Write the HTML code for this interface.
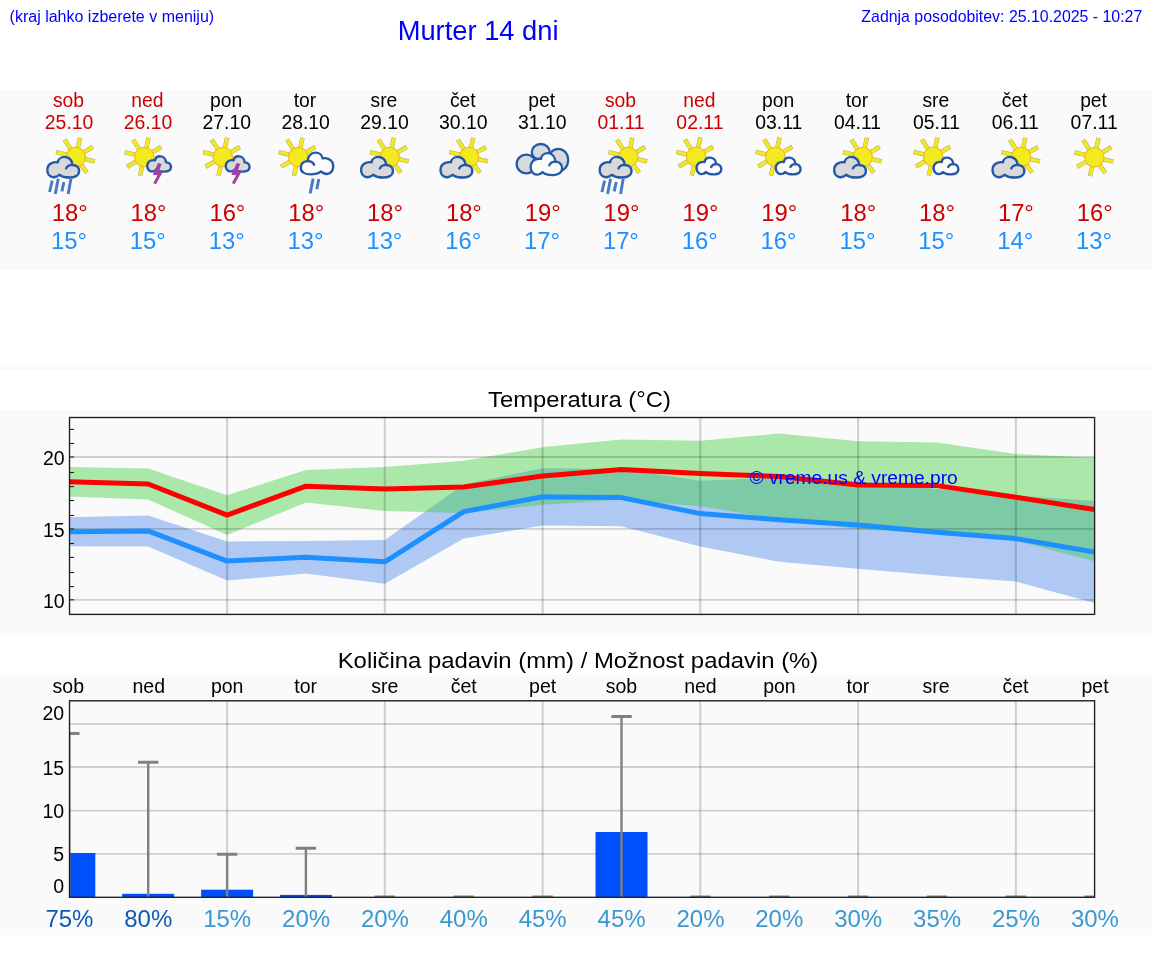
<!DOCTYPE html>
<html><head><meta charset="utf-8"><title>Murter 14 dni</title>
<style>html,body{margin:0;padding:0;background:#fff;}body{width:1152px;height:975px;position:relative;overflow:hidden;font-family:"Liberation Sans",sans-serif;}</style>
</head><body>
<svg width="1152" height="975" viewBox="0 0 1152 975" style="position:absolute;left:0;top:0">
<defs><filter id="blur" x="-10%" y="-10%" width="120%" height="120%"><feGaussianBlur stdDeviation="0.45"/></filter><filter id="soft" x="0" y="0" width="100%" height="100%" filterUnits="userSpaceOnUse"><feGaussianBlur stdDeviation="0.38"/></filter></defs>
<rect x="0" y="90" width="1152" height="180" fill="#fafafa"/>
<rect x="0" y="365" width="1152" height="5" fill="#fafafa"/>
<rect x="0" y="410" width="1152" height="225" fill="#fafafa"/>
<rect x="0" y="675" width="1152" height="260" fill="#fafafa"/>
<g filter="url(#soft)">
<text x="9.6" y="21.9" font-family="Liberation Sans, sans-serif" opacity="0.999" font-size="16" fill="#0000ff">(kraj lahko izberete v meniju)</text>
<text x="397.7" y="39.9" font-family="Liberation Sans, sans-serif" opacity="0.999" font-size="27.3" fill="#0000ff">Murter 14 dni</text>
<text x="1142.3" y="21.9" font-family="Liberation Sans, sans-serif" opacity="0.999" font-size="15.9" fill="#0000ff" text-anchor="end">Zadnja posodobitev: 25.10.2025 - 10:27</text>
<g font-family="Liberation Sans, sans-serif" text-anchor="middle">
<g font-size="19.3">
<text x="68.5" y="106.9" fill="#cc0000">sob</text>
<text x="147.35" y="106.9" fill="#cc0000">ned</text>
<text x="226.2" y="106.9" fill="#000">pon</text>
<text x="305.0" y="106.9" fill="#000">tor</text>
<text x="383.9" y="106.9" fill="#000">sre</text>
<text x="462.8" y="106.9" fill="#000">čet</text>
<text x="541.6" y="106.9" fill="#000">pet</text>
<text x="620.45" y="106.9" fill="#cc0000">sob</text>
<text x="699.3" y="106.9" fill="#cc0000">ned</text>
<text x="778.2" y="106.9" fill="#000">pon</text>
<text x="857.0" y="106.9" fill="#000">tor</text>
<text x="935.85" y="106.9" fill="#000">sre</text>
<text x="1014.7" y="106.9" fill="#000">čet</text>
<text x="1093.55" y="106.9" fill="#000">pet</text>
</g>
<g font-size="19.4">
<text x="69.1" y="128.95" fill="#cc0000">25.10</text>
<text x="147.95" y="128.95" fill="#cc0000">26.10</text>
<text x="226.8" y="128.95" fill="#000">27.10</text>
<text x="305.65" y="128.95" fill="#000">28.10</text>
<text x="384.5" y="128.95" fill="#000">29.10</text>
<text x="463.35" y="128.95" fill="#000">30.10</text>
<text x="542.2" y="128.95" fill="#000">31.10</text>
<text x="621.05" y="128.95" fill="#cc0000">01.11</text>
<text x="699.9" y="128.95" fill="#cc0000">02.11</text>
<text x="778.75" y="128.95" fill="#000">03.11</text>
<text x="857.6" y="128.95" fill="#000">04.11</text>
<text x="936.45" y="128.95" fill="#000">05.11</text>
<text x="1015.3" y="128.95" fill="#000">06.11</text>
<text x="1094.15" y="128.95" fill="#000">07.11</text>
</g>
<g font-size="23.8" fill="#cc0000">
<text x="69.7" y="221">18°</text>
<text x="148.5" y="221">18°</text>
<text x="227.4" y="221">16°</text>
<text x="306.2" y="221">18°</text>
<text x="385.1" y="221">18°</text>
<text x="463.9" y="221">18°</text>
<text x="542.8" y="221">19°</text>
<text x="621.6" y="221">19°</text>
<text x="700.5" y="221">19°</text>
<text x="779.3" y="221">19°</text>
<text x="858.2" y="221">18°</text>
<text x="937.0" y="221">18°</text>
<text x="1015.9" y="221">17°</text>
<text x="1094.7" y="221">16°</text>
</g>
<g font-size="23.8" fill="#1e90ff">
<text x="69.0" y="248.9">15°</text>
<text x="147.8" y="248.9">15°</text>
<text x="226.7" y="248.9">13°</text>
<text x="305.5" y="248.9">13°</text>
<text x="384.4" y="248.9">13°</text>
<text x="463.2" y="248.9">16°</text>
<text x="542.1" y="248.9">17°</text>
<text x="620.9" y="248.9">17°</text>
<text x="699.8" y="248.9">16°</text>
<text x="778.6" y="248.9">16°</text>
<text x="857.5" y="248.9">15°</text>
<text x="936.3" y="248.9">15°</text>
<text x="1015.2" y="248.9">14°</text>
<text x="1094.0" y="248.9">13°</text>
</g>
</g>
<g filter="url(#blur)">
<g transform="translate(69.10 132) scale(0.0666667) translate(-438 0)"><line x1="470" y1="268" x2="371" y2="116" stroke="#9a9860" stroke-width="66" stroke-opacity="0.85"/><line x1="470" y1="268" x2="374" y2="120" stroke="#f2ea1c" stroke-width="52"/><line x1="567" y1="251" x2="603" y2="87" stroke="#9a9860" stroke-width="66" stroke-opacity="0.85"/><line x1="567" y1="251" x2="602" y2="92" stroke="#f2ea1c" stroke-width="52"/><line x1="649" y1="310" x2="794" y2="225" stroke="#9a9860" stroke-width="66" stroke-opacity="0.85"/><line x1="649" y1="310" x2="790" y2="228" stroke="#f2ea1c" stroke-width="52"/><line x1="663" y1="404" x2="824" y2="442" stroke="#9a9860" stroke-width="66" stroke-opacity="0.85"/><line x1="663" y1="404" x2="820" y2="441" stroke="#f2ea1c" stroke-width="52"/><line x1="612" y1="480" x2="704" y2="613" stroke="#9a9860" stroke-width="66" stroke-opacity="0.85"/><line x1="612" y1="480" x2="701" y2="609" stroke="#f2ea1c" stroke-width="52"/><line x1="415" y1="344" x2="243" y2="302" stroke="#9a9860" stroke-width="66" stroke-opacity="0.85"/><line x1="415" y1="344" x2="248" y2="303" stroke="#f2ea1c" stroke-width="52"/><circle cx="539" cy="375" r="146" fill="#f2ea1c" stroke="#f7b42c" stroke-width="17"/><path d="M492,494 C563,494 593,547 588,596 C583,654 517,683 446,683 C380,683 325,670 291,641 C259,675 198,690 158,665 C107,634 100,558 124,512 C147,466 213,443 267,456 C274,405 320,372 377,374 C441,377 485,430 489,494 Z" fill="#d9d9d9" stroke="#2458a8" stroke-width="36" stroke-linejoin="round"/><path d="M393,545 C411,512 451,492 492,494" fill="none" stroke="#2458a8" stroke-width="36" stroke-linecap="round"/><line x1="185" y1="730" x2="145" y2="900" stroke="#4a79c6" stroke-width="44"/><line x1="275" y1="700" x2="230" y2="930" stroke="#4a79c6" stroke-width="44"/><line x1="360" y1="750" x2="330" y2="890" stroke="#4a79c6" stroke-width="44"/><line x1="465" y1="700" x2="425" y2="930" stroke="#4a79c6" stroke-width="44"/></g>
<g transform="translate(147.65 132) scale(0.0666667) translate(-455 0)"><line x1="336" y1="268" x2="237" y2="116" stroke="#9a9860" stroke-width="66" stroke-opacity="0.85"/><line x1="336" y1="268" x2="240" y2="120" stroke="#f2ea1c" stroke-width="52"/><line x1="433" y1="251" x2="469" y2="87" stroke="#9a9860" stroke-width="66" stroke-opacity="0.85"/><line x1="433" y1="251" x2="468" y2="92" stroke="#f2ea1c" stroke-width="52"/><line x1="515" y1="310" x2="660" y2="225" stroke="#9a9860" stroke-width="66" stroke-opacity="0.85"/><line x1="515" y1="310" x2="656" y2="228" stroke="#f2ea1c" stroke-width="52"/><line x1="281" y1="344" x2="109" y2="302" stroke="#9a9860" stroke-width="66" stroke-opacity="0.85"/><line x1="281" y1="344" x2="114" y2="303" stroke="#f2ea1c" stroke-width="52"/><line x1="294" y1="438" x2="147" y2="521" stroke="#9a9860" stroke-width="66" stroke-opacity="0.85"/><line x1="294" y1="438" x2="152" y2="519" stroke="#f2ea1c" stroke-width="52"/><line x1="376" y1="499" x2="339" y2="657" stroke="#9a9860" stroke-width="66" stroke-opacity="0.85"/><line x1="376" y1="499" x2="340" y2="652" stroke="#f2ea1c" stroke-width="52"/><circle cx="405" cy="375" r="146" fill="#f2ea1c" stroke="#f7b42c" stroke-width="17"/><path d="M733,455 C786,455 809,494 805,530 C801,574 752,595 699,595 C650,595 609,585 584,564 C560,589 514,600 484,581 C446,559 441,502 459,467 C476,433 526,417 566,426 C571,388 605,363 648,365 C695,367 728,407 731,455 Z" fill="#d9d9d9" stroke="#2458a8" stroke-width="36" stroke-linejoin="round"/><polygon points="612,465 665,480 628,578 690,585 580,785 540,765 603,650 532,640" fill="#a23fa0"/></g>
<g transform="translate(226.20 132) scale(0.0666667) translate(-455 0)"><line x1="336" y1="268" x2="237" y2="116" stroke="#9a9860" stroke-width="66" stroke-opacity="0.85"/><line x1="336" y1="268" x2="240" y2="120" stroke="#f2ea1c" stroke-width="52"/><line x1="433" y1="251" x2="469" y2="87" stroke="#9a9860" stroke-width="66" stroke-opacity="0.85"/><line x1="433" y1="251" x2="468" y2="92" stroke="#f2ea1c" stroke-width="52"/><line x1="515" y1="310" x2="660" y2="225" stroke="#9a9860" stroke-width="66" stroke-opacity="0.85"/><line x1="515" y1="310" x2="656" y2="228" stroke="#f2ea1c" stroke-width="52"/><line x1="281" y1="344" x2="109" y2="302" stroke="#9a9860" stroke-width="66" stroke-opacity="0.85"/><line x1="281" y1="344" x2="114" y2="303" stroke="#f2ea1c" stroke-width="52"/><line x1="294" y1="438" x2="147" y2="521" stroke="#9a9860" stroke-width="66" stroke-opacity="0.85"/><line x1="294" y1="438" x2="152" y2="519" stroke="#f2ea1c" stroke-width="52"/><line x1="376" y1="499" x2="339" y2="657" stroke="#9a9860" stroke-width="66" stroke-opacity="0.85"/><line x1="376" y1="499" x2="340" y2="652" stroke="#f2ea1c" stroke-width="52"/><circle cx="405" cy="375" r="146" fill="#f2ea1c" stroke="#f7b42c" stroke-width="17"/><path d="M733,455 C786,455 809,494 805,530 C801,574 752,595 699,595 C650,595 609,585 584,564 C560,589 514,600 484,581 C446,559 441,502 459,467 C476,433 526,417 566,426 C571,388 605,363 648,365 C695,367 728,407 731,455 Z" fill="#d9d9d9" stroke="#2458a8" stroke-width="36" stroke-linejoin="round"/><polygon points="612,465 665,480 628,578 690,585 580,785 540,765 603,650 532,640" fill="#a23fa0"/></g>
<g transform="translate(305.55 132) scale(0.0666667) translate(-451 0)"><line x1="273" y1="267" x2="174" y2="115" stroke="#9a9860" stroke-width="66" stroke-opacity="0.85"/><line x1="273" y1="267" x2="177" y2="119" stroke="#f2ea1c" stroke-width="52"/><line x1="370" y1="250" x2="406" y2="86" stroke="#9a9860" stroke-width="66" stroke-opacity="0.85"/><line x1="370" y1="250" x2="405" y2="90" stroke="#f2ea1c" stroke-width="52"/><line x1="452" y1="309" x2="597" y2="224" stroke="#9a9860" stroke-width="66" stroke-opacity="0.85"/><line x1="452" y1="309" x2="592" y2="227" stroke="#f2ea1c" stroke-width="52"/><line x1="218" y1="343" x2="46" y2="301" stroke="#9a9860" stroke-width="66" stroke-opacity="0.85"/><line x1="218" y1="343" x2="51" y2="302" stroke="#f2ea1c" stroke-width="52"/><line x1="231" y1="437" x2="84" y2="520" stroke="#9a9860" stroke-width="66" stroke-opacity="0.85"/><line x1="231" y1="437" x2="89" y2="518" stroke="#f2ea1c" stroke-width="52"/><line x1="313" y1="498" x2="276" y2="656" stroke="#9a9860" stroke-width="66" stroke-opacity="0.85"/><line x1="313" y1="498" x2="278" y2="652" stroke="#f2ea1c" stroke-width="52"/><circle cx="342" cy="374" r="146" fill="#f2ea1c" stroke="#f7b42c" stroke-width="17"/><path d="M478,437 C406,437 375,492 380,544 C385,605 452,635 524,635 C592,635 648,621 682,591 C715,626 777,643 819,616 C870,584 877,503 853,455 C829,407 762,383 707,396 C700,342 653,308 595,310 C530,313 485,369 481,437 Z" fill="#fcfcfc" stroke="#2458a8" stroke-width="36" stroke-linejoin="round"/><path d="M579,490 C561,455 519,434 478,437" fill="none" stroke="#2458a8" stroke-width="36" stroke-linecap="round"/><line x1="565" y1="700" x2="520" y2="920" stroke="#4a79c6" stroke-width="44"/><line x1="650" y1="705" x2="620" y2="860" stroke="#4a79c6" stroke-width="44"/></g>
<g transform="translate(382.90 132) scale(0.0666667) translate(-438 0)"><line x1="470" y1="268" x2="371" y2="116" stroke="#9a9860" stroke-width="66" stroke-opacity="0.85"/><line x1="470" y1="268" x2="374" y2="120" stroke="#f2ea1c" stroke-width="52"/><line x1="567" y1="251" x2="603" y2="87" stroke="#9a9860" stroke-width="66" stroke-opacity="0.85"/><line x1="567" y1="251" x2="602" y2="92" stroke="#f2ea1c" stroke-width="52"/><line x1="649" y1="310" x2="794" y2="225" stroke="#9a9860" stroke-width="66" stroke-opacity="0.85"/><line x1="649" y1="310" x2="790" y2="228" stroke="#f2ea1c" stroke-width="52"/><line x1="663" y1="404" x2="824" y2="442" stroke="#9a9860" stroke-width="66" stroke-opacity="0.85"/><line x1="663" y1="404" x2="820" y2="441" stroke="#f2ea1c" stroke-width="52"/><line x1="612" y1="480" x2="704" y2="613" stroke="#9a9860" stroke-width="66" stroke-opacity="0.85"/><line x1="612" y1="480" x2="701" y2="609" stroke="#f2ea1c" stroke-width="52"/><line x1="415" y1="344" x2="243" y2="302" stroke="#9a9860" stroke-width="66" stroke-opacity="0.85"/><line x1="415" y1="344" x2="248" y2="303" stroke="#f2ea1c" stroke-width="52"/><circle cx="539" cy="375" r="146" fill="#f2ea1c" stroke="#f7b42c" stroke-width="17"/><path d="M492,494 C563,494 593,547 588,596 C583,654 517,683 446,683 C380,683 325,670 291,641 C259,675 198,690 158,665 C107,634 100,558 124,512 C147,466 213,443 267,456 C274,405 320,372 377,374 C441,377 485,430 489,494 Z" fill="#d9d9d9" stroke="#2458a8" stroke-width="36" stroke-linejoin="round"/><path d="M393,545 C411,512 451,492 492,494" fill="none" stroke="#2458a8" stroke-width="36" stroke-linecap="round"/></g>
<g transform="translate(462.25 132) scale(0.0666667) translate(-438 0)"><line x1="470" y1="268" x2="371" y2="116" stroke="#9a9860" stroke-width="66" stroke-opacity="0.85"/><line x1="470" y1="268" x2="374" y2="120" stroke="#f2ea1c" stroke-width="52"/><line x1="567" y1="251" x2="603" y2="87" stroke="#9a9860" stroke-width="66" stroke-opacity="0.85"/><line x1="567" y1="251" x2="602" y2="92" stroke="#f2ea1c" stroke-width="52"/><line x1="649" y1="310" x2="794" y2="225" stroke="#9a9860" stroke-width="66" stroke-opacity="0.85"/><line x1="649" y1="310" x2="790" y2="228" stroke="#f2ea1c" stroke-width="52"/><line x1="663" y1="404" x2="824" y2="442" stroke="#9a9860" stroke-width="66" stroke-opacity="0.85"/><line x1="663" y1="404" x2="820" y2="441" stroke="#f2ea1c" stroke-width="52"/><line x1="612" y1="480" x2="704" y2="613" stroke="#9a9860" stroke-width="66" stroke-opacity="0.85"/><line x1="612" y1="480" x2="701" y2="609" stroke="#f2ea1c" stroke-width="52"/><line x1="415" y1="344" x2="243" y2="302" stroke="#9a9860" stroke-width="66" stroke-opacity="0.85"/><line x1="415" y1="344" x2="248" y2="303" stroke="#f2ea1c" stroke-width="52"/><circle cx="539" cy="375" r="146" fill="#f2ea1c" stroke="#f7b42c" stroke-width="17"/><path d="M492,494 C563,494 593,547 588,596 C583,654 517,683 446,683 C380,683 325,670 291,641 C259,675 198,690 158,665 C107,634 100,558 124,512 C147,466 213,443 267,456 C274,405 320,372 377,374 C441,377 485,430 489,494 Z" fill="#d9d9d9" stroke="#2458a8" stroke-width="36" stroke-linejoin="round"/><path d="M393,545 C411,512 451,492 492,494" fill="none" stroke="#2458a8" stroke-width="36" stroke-linecap="round"/></g>
<g transform="translate(541.60 132) scale(0.0666667) translate(-444 0)"><ellipse cx="215" cy="480" rx="145" ry="140" fill="#d9d9d9" stroke="#2458a8" stroke-width="34"/><ellipse cx="695" cy="420" rx="148" ry="168" fill="#d9d9d9" stroke="#2458a8" stroke-width="34"/><ellipse cx="432" cy="300" rx="135" ry="120" fill="#d9d9d9" stroke="#2458a8" stroke-width="34"/><path d="M655,446 C725,446 755,502 750,554 C745,616 680,646 611,646 C546,646 491,632 458,602 C426,637 367,654 327,627 C277,594 270,513 294,464 C317,415 382,392 434,405 C441,350 486,316 543,318 C606,321 648,378 652,446 Z" fill="#fcfcfc" stroke="#2458a8" stroke-width="34" stroke-linejoin="round"/><path d="M558,500 C576,464 616,444 655,446" fill="none" stroke="#2458a8" stroke-width="34" stroke-linecap="round"/></g>
<g transform="translate(621.45 132) scale(0.0666667) translate(-438 0)"><line x1="470" y1="268" x2="371" y2="116" stroke="#9a9860" stroke-width="66" stroke-opacity="0.85"/><line x1="470" y1="268" x2="374" y2="120" stroke="#f2ea1c" stroke-width="52"/><line x1="567" y1="251" x2="603" y2="87" stroke="#9a9860" stroke-width="66" stroke-opacity="0.85"/><line x1="567" y1="251" x2="602" y2="92" stroke="#f2ea1c" stroke-width="52"/><line x1="649" y1="310" x2="794" y2="225" stroke="#9a9860" stroke-width="66" stroke-opacity="0.85"/><line x1="649" y1="310" x2="790" y2="228" stroke="#f2ea1c" stroke-width="52"/><line x1="663" y1="404" x2="824" y2="442" stroke="#9a9860" stroke-width="66" stroke-opacity="0.85"/><line x1="663" y1="404" x2="820" y2="441" stroke="#f2ea1c" stroke-width="52"/><line x1="612" y1="480" x2="704" y2="613" stroke="#9a9860" stroke-width="66" stroke-opacity="0.85"/><line x1="612" y1="480" x2="701" y2="609" stroke="#f2ea1c" stroke-width="52"/><line x1="415" y1="344" x2="243" y2="302" stroke="#9a9860" stroke-width="66" stroke-opacity="0.85"/><line x1="415" y1="344" x2="248" y2="303" stroke="#f2ea1c" stroke-width="52"/><circle cx="539" cy="375" r="146" fill="#f2ea1c" stroke="#f7b42c" stroke-width="17"/><path d="M492,494 C563,494 593,547 588,596 C583,654 517,683 446,683 C380,683 325,670 291,641 C259,675 198,690 158,665 C107,634 100,558 124,512 C147,466 213,443 267,456 C274,405 320,372 377,374 C441,377 485,430 489,494 Z" fill="#d9d9d9" stroke="#2458a8" stroke-width="36" stroke-linejoin="round"/><path d="M393,545 C411,512 451,492 492,494" fill="none" stroke="#2458a8" stroke-width="36" stroke-linecap="round"/><line x1="185" y1="730" x2="145" y2="900" stroke="#4a79c6" stroke-width="44"/><line x1="275" y1="700" x2="230" y2="930" stroke="#4a79c6" stroke-width="44"/><line x1="360" y1="750" x2="330" y2="890" stroke="#4a79c6" stroke-width="44"/><line x1="465" y1="700" x2="425" y2="930" stroke="#4a79c6" stroke-width="44"/></g>
<g transform="translate(699.30 132) scale(0.0666667) translate(-440 0)"><line x1="323" y1="264" x2="224" y2="112" stroke="#9a9860" stroke-width="66" stroke-opacity="0.85"/><line x1="323" y1="264" x2="227" y2="116" stroke="#f2ea1c" stroke-width="52"/><line x1="420" y1="247" x2="456" y2="83" stroke="#9a9860" stroke-width="66" stroke-opacity="0.85"/><line x1="420" y1="247" x2="455" y2="88" stroke="#f2ea1c" stroke-width="52"/><line x1="502" y1="306" x2="647" y2="221" stroke="#9a9860" stroke-width="66" stroke-opacity="0.85"/><line x1="502" y1="306" x2="642" y2="224" stroke="#f2ea1c" stroke-width="52"/><line x1="268" y1="340" x2="96" y2="298" stroke="#9a9860" stroke-width="66" stroke-opacity="0.85"/><line x1="268" y1="340" x2="101" y2="299" stroke="#f2ea1c" stroke-width="52"/><line x1="281" y1="434" x2="134" y2="517" stroke="#9a9860" stroke-width="66" stroke-opacity="0.85"/><line x1="281" y1="434" x2="139" y2="515" stroke="#f2ea1c" stroke-width="52"/><line x1="363" y1="495" x2="326" y2="653" stroke="#9a9860" stroke-width="66" stroke-opacity="0.85"/><line x1="363" y1="495" x2="328" y2="648" stroke="#f2ea1c" stroke-width="52"/><circle cx="392" cy="371" r="146" fill="#f2ea1c" stroke="#f7b42c" stroke-width="17"/><path d="M695,482 C750,482 774,525 770,565 C766,612 715,635 660,635 C609,635 565,624 539,601 C514,628 467,641 435,620 C396,595 391,534 409,496 C428,459 479,441 520,451 C526,410 561,383 606,385 C656,387 690,430 693,482 Z" fill="#fcfcfc" stroke="#2458a8" stroke-width="36" stroke-linejoin="round"/><path d="M618,524 C632,496 664,481 695,482" fill="none" stroke="#2458a8" stroke-width="36" stroke-linecap="round"/></g>
<g transform="translate(778.55 132) scale(0.0666667) translate(-440 0)"><line x1="323" y1="264" x2="224" y2="112" stroke="#9a9860" stroke-width="66" stroke-opacity="0.85"/><line x1="323" y1="264" x2="227" y2="116" stroke="#f2ea1c" stroke-width="52"/><line x1="420" y1="247" x2="456" y2="83" stroke="#9a9860" stroke-width="66" stroke-opacity="0.85"/><line x1="420" y1="247" x2="455" y2="88" stroke="#f2ea1c" stroke-width="52"/><line x1="502" y1="306" x2="647" y2="221" stroke="#9a9860" stroke-width="66" stroke-opacity="0.85"/><line x1="502" y1="306" x2="642" y2="224" stroke="#f2ea1c" stroke-width="52"/><line x1="268" y1="340" x2="96" y2="298" stroke="#9a9860" stroke-width="66" stroke-opacity="0.85"/><line x1="268" y1="340" x2="101" y2="299" stroke="#f2ea1c" stroke-width="52"/><line x1="281" y1="434" x2="134" y2="517" stroke="#9a9860" stroke-width="66" stroke-opacity="0.85"/><line x1="281" y1="434" x2="139" y2="515" stroke="#f2ea1c" stroke-width="52"/><line x1="363" y1="495" x2="326" y2="653" stroke="#9a9860" stroke-width="66" stroke-opacity="0.85"/><line x1="363" y1="495" x2="328" y2="648" stroke="#f2ea1c" stroke-width="52"/><circle cx="392" cy="371" r="146" fill="#f2ea1c" stroke="#f7b42c" stroke-width="17"/><path d="M695,482 C750,482 774,525 770,565 C766,612 715,635 660,635 C609,635 565,624 539,601 C514,628 467,641 435,620 C396,595 391,534 409,496 C428,459 479,441 520,451 C526,410 561,383 606,385 C656,387 690,430 693,482 Z" fill="#fcfcfc" stroke="#2458a8" stroke-width="36" stroke-linejoin="round"/><path d="M618,524 C632,496 664,481 695,482" fill="none" stroke="#2458a8" stroke-width="36" stroke-linecap="round"/></g>
<g transform="translate(855.90 132) scale(0.0666667) translate(-438 0)"><line x1="470" y1="268" x2="371" y2="116" stroke="#9a9860" stroke-width="66" stroke-opacity="0.85"/><line x1="470" y1="268" x2="374" y2="120" stroke="#f2ea1c" stroke-width="52"/><line x1="567" y1="251" x2="603" y2="87" stroke="#9a9860" stroke-width="66" stroke-opacity="0.85"/><line x1="567" y1="251" x2="602" y2="92" stroke="#f2ea1c" stroke-width="52"/><line x1="649" y1="310" x2="794" y2="225" stroke="#9a9860" stroke-width="66" stroke-opacity="0.85"/><line x1="649" y1="310" x2="790" y2="228" stroke="#f2ea1c" stroke-width="52"/><line x1="663" y1="404" x2="824" y2="442" stroke="#9a9860" stroke-width="66" stroke-opacity="0.85"/><line x1="663" y1="404" x2="820" y2="441" stroke="#f2ea1c" stroke-width="52"/><line x1="612" y1="480" x2="704" y2="613" stroke="#9a9860" stroke-width="66" stroke-opacity="0.85"/><line x1="612" y1="480" x2="701" y2="609" stroke="#f2ea1c" stroke-width="52"/><line x1="415" y1="344" x2="243" y2="302" stroke="#9a9860" stroke-width="66" stroke-opacity="0.85"/><line x1="415" y1="344" x2="248" y2="303" stroke="#f2ea1c" stroke-width="52"/><circle cx="539" cy="375" r="146" fill="#f2ea1c" stroke="#f7b42c" stroke-width="17"/><path d="M492,494 C563,494 593,547 588,596 C583,654 517,683 446,683 C380,683 325,670 291,641 C259,675 198,690 158,665 C107,634 100,558 124,512 C147,466 213,443 267,456 C274,405 320,372 377,374 C441,377 485,430 489,494 Z" fill="#d9d9d9" stroke="#2458a8" stroke-width="36" stroke-linejoin="round"/><path d="M393,545 C411,512 451,492 492,494" fill="none" stroke="#2458a8" stroke-width="36" stroke-linecap="round"/></g>
<g transform="translate(936.35 132) scale(0.0666667) translate(-440 0)"><line x1="323" y1="264" x2="224" y2="112" stroke="#9a9860" stroke-width="66" stroke-opacity="0.85"/><line x1="323" y1="264" x2="227" y2="116" stroke="#f2ea1c" stroke-width="52"/><line x1="420" y1="247" x2="456" y2="83" stroke="#9a9860" stroke-width="66" stroke-opacity="0.85"/><line x1="420" y1="247" x2="455" y2="88" stroke="#f2ea1c" stroke-width="52"/><line x1="502" y1="306" x2="647" y2="221" stroke="#9a9860" stroke-width="66" stroke-opacity="0.85"/><line x1="502" y1="306" x2="642" y2="224" stroke="#f2ea1c" stroke-width="52"/><line x1="268" y1="340" x2="96" y2="298" stroke="#9a9860" stroke-width="66" stroke-opacity="0.85"/><line x1="268" y1="340" x2="101" y2="299" stroke="#f2ea1c" stroke-width="52"/><line x1="281" y1="434" x2="134" y2="517" stroke="#9a9860" stroke-width="66" stroke-opacity="0.85"/><line x1="281" y1="434" x2="139" y2="515" stroke="#f2ea1c" stroke-width="52"/><line x1="363" y1="495" x2="326" y2="653" stroke="#9a9860" stroke-width="66" stroke-opacity="0.85"/><line x1="363" y1="495" x2="328" y2="648" stroke="#f2ea1c" stroke-width="52"/><circle cx="392" cy="371" r="146" fill="#f2ea1c" stroke="#f7b42c" stroke-width="17"/><path d="M695,482 C750,482 774,525 770,565 C766,612 715,635 660,635 C609,635 565,624 539,601 C514,628 467,641 435,620 C396,595 391,534 409,496 C428,459 479,441 520,451 C526,410 561,383 606,385 C656,387 690,430 693,482 Z" fill="#fcfcfc" stroke="#2458a8" stroke-width="36" stroke-linejoin="round"/><path d="M618,524 C632,496 664,481 695,482" fill="none" stroke="#2458a8" stroke-width="36" stroke-linecap="round"/></g>
<g transform="translate(1014.30 132) scale(0.0666667) translate(-438 0)"><line x1="470" y1="268" x2="371" y2="116" stroke="#9a9860" stroke-width="66" stroke-opacity="0.85"/><line x1="470" y1="268" x2="374" y2="120" stroke="#f2ea1c" stroke-width="52"/><line x1="567" y1="251" x2="603" y2="87" stroke="#9a9860" stroke-width="66" stroke-opacity="0.85"/><line x1="567" y1="251" x2="602" y2="92" stroke="#f2ea1c" stroke-width="52"/><line x1="649" y1="310" x2="794" y2="225" stroke="#9a9860" stroke-width="66" stroke-opacity="0.85"/><line x1="649" y1="310" x2="790" y2="228" stroke="#f2ea1c" stroke-width="52"/><line x1="663" y1="404" x2="824" y2="442" stroke="#9a9860" stroke-width="66" stroke-opacity="0.85"/><line x1="663" y1="404" x2="820" y2="441" stroke="#f2ea1c" stroke-width="52"/><line x1="612" y1="480" x2="704" y2="613" stroke="#9a9860" stroke-width="66" stroke-opacity="0.85"/><line x1="612" y1="480" x2="701" y2="609" stroke="#f2ea1c" stroke-width="52"/><line x1="415" y1="344" x2="243" y2="302" stroke="#9a9860" stroke-width="66" stroke-opacity="0.85"/><line x1="415" y1="344" x2="248" y2="303" stroke="#f2ea1c" stroke-width="52"/><circle cx="539" cy="375" r="146" fill="#f2ea1c" stroke="#f7b42c" stroke-width="17"/><path d="M492,494 C563,494 593,547 588,596 C583,654 517,683 446,683 C380,683 325,670 291,641 C259,675 198,690 158,665 C107,634 100,558 124,512 C147,466 213,443 267,456 C274,405 320,372 377,374 C441,377 485,430 489,494 Z" fill="#d9d9d9" stroke="#2458a8" stroke-width="36" stroke-linejoin="round"/><path d="M393,545 C411,512 451,492 492,494" fill="none" stroke="#2458a8" stroke-width="36" stroke-linecap="round"/></g>
<g transform="translate(1094.85 132) scale(0.0666667) translate(-448 0)"><line x1="371" y1="271" x2="272" y2="119" stroke="#9a9860" stroke-width="66" stroke-opacity="0.85"/><line x1="371" y1="271" x2="275" y2="123" stroke="#f2ea1c" stroke-width="52"/><line x1="468" y1="254" x2="504" y2="90" stroke="#9a9860" stroke-width="66" stroke-opacity="0.85"/><line x1="468" y1="254" x2="503" y2="94" stroke="#f2ea1c" stroke-width="52"/><line x1="550" y1="313" x2="695" y2="228" stroke="#9a9860" stroke-width="66" stroke-opacity="0.85"/><line x1="550" y1="313" x2="690" y2="231" stroke="#f2ea1c" stroke-width="52"/><line x1="564" y1="407" x2="725" y2="445" stroke="#9a9860" stroke-width="66" stroke-opacity="0.85"/><line x1="564" y1="407" x2="720" y2="444" stroke="#f2ea1c" stroke-width="52"/><line x1="513" y1="483" x2="605" y2="616" stroke="#9a9860" stroke-width="66" stroke-opacity="0.85"/><line x1="513" y1="483" x2="602" y2="612" stroke="#f2ea1c" stroke-width="52"/><line x1="411" y1="502" x2="374" y2="660" stroke="#9a9860" stroke-width="66" stroke-opacity="0.85"/><line x1="411" y1="502" x2="376" y2="656" stroke="#f2ea1c" stroke-width="52"/><line x1="329" y1="441" x2="182" y2="524" stroke="#9a9860" stroke-width="66" stroke-opacity="0.85"/><line x1="329" y1="441" x2="187" y2="522" stroke="#f2ea1c" stroke-width="52"/><line x1="316" y1="347" x2="144" y2="305" stroke="#9a9860" stroke-width="66" stroke-opacity="0.85"/><line x1="316" y1="347" x2="149" y2="306" stroke="#f2ea1c" stroke-width="52"/><circle cx="440" cy="378" r="146" fill="#f2ea1c" stroke="#f7b42c" stroke-width="17"/></g>
</g>
<clipPath id="ct"><rect x="69.5" y="417.5" width="1025.1" height="196.89999999999998"/></clipPath>
<g clip-path="url(#ct)">
<polygon points="69.3,517.3 148.2,515.4 227.1,541.6 305.9,541.0 384.8,539.9 463.7,484.6 542.6,468.2 621.5,468.9 700.3,480.8 779.2,477.7 858.1,481.2 937.0,489.0 1015.9,495.6 1094.7,501.0 1094.7,603.0 1015.9,581.6 937.0,575.6 858.1,568.8 779.2,561.7 700.3,546.4 621.5,526.3 542.6,525.4 463.7,538.6 384.8,583.7 305.9,573.6 227.1,580.6 148.2,546.4 69.3,546.3" fill="rgb(100,149,237)" fill-opacity="0.5"/>
<polygon points="69.3,467.0 148.2,468.5 227.1,495.3 305.9,469.9 384.8,466.9 463.7,460.7 542.6,447.2 621.5,439.6 700.3,440.7 779.2,433.6 858.1,441.3 937.0,442.4 1015.9,453.9 1094.7,457.8 1094.7,561.2 1015.9,540.7 937.0,534.0 858.1,528.9 779.2,519.2 700.3,506.3 621.5,499.4 542.6,504.8 463.7,513.1 384.8,510.9 305.9,502.5 227.1,534.9 148.2,499.5 69.3,496.4" fill="rgb(50,205,50)" fill-opacity="0.4"/>
<line x1="69.5" x2="1094.6" y1="457.0" y2="457.0" stroke="#000" stroke-opacity="0.17" stroke-width="1.8"/>
<line x1="69.5" x2="1094.6" y1="528.8" y2="528.8" stroke="#000" stroke-opacity="0.17" stroke-width="1.8"/>
<line x1="69.5" x2="1094.6" y1="599.8" y2="599.8" stroke="#000" stroke-opacity="0.17" stroke-width="1.8"/>
<line x1="227.1" x2="227.1" y1="417.5" y2="614.4" stroke="#000" stroke-opacity="0.17" stroke-width="2.1"/>
<line x1="384.8" x2="384.8" y1="417.5" y2="614.4" stroke="#000" stroke-opacity="0.17" stroke-width="2.1"/>
<line x1="542.6" x2="542.6" y1="417.5" y2="614.4" stroke="#000" stroke-opacity="0.17" stroke-width="2.1"/>
<line x1="700.3" x2="700.3" y1="417.5" y2="614.4" stroke="#000" stroke-opacity="0.17" stroke-width="2.1"/>
<line x1="858.1" x2="858.1" y1="417.5" y2="614.4" stroke="#000" stroke-opacity="0.17" stroke-width="2.1"/>
<line x1="1015.9" x2="1015.9" y1="417.5" y2="614.4" stroke="#000" stroke-opacity="0.17" stroke-width="2.1"/>
</g>
<g clip-path="url(#ct)">
<polyline points="69.3,531.8 148.2,530.9 227.1,561.1 305.9,557.3 384.8,561.8 463.7,511.6 542.6,496.8 621.5,497.6 700.3,513.6 779.2,519.7 858.1,525.0 937.0,532.3 1015.9,538.6 1094.7,552.0" fill="none" stroke="#1e90ff" stroke-width="5" stroke-linejoin="round"/>
<polyline points="69.3,481.7 148.2,484.0 227.1,515.1 305.9,486.2 384.8,488.9 463.7,486.9 542.6,476.0 621.5,469.5 700.3,473.5 779.2,476.4 858.1,485.1 937.0,485.6 1015.9,497.3 1094.7,509.5" fill="none" stroke="#ff0000" stroke-width="5" stroke-linejoin="round"/>
</g>
<text x="749.5" y="483.7" font-family="Liberation Sans, sans-serif" opacity="0.999" font-size="19.2" fill="#0000ff">© vreme.us &amp; vreme.pro</text>
<line x1="69.5" x2="74.1" y1="429.4" y2="429.4" stroke="#222" stroke-width="1.1"/>
<line x1="69.5" x2="74.1" y1="443.5" y2="443.5" stroke="#222" stroke-width="1.1"/>
<line x1="69.5" x2="74.1" y1="457.0" y2="457.0" stroke="#222" stroke-width="1.1"/>
<line x1="69.5" x2="74.1" y1="472.5" y2="472.5" stroke="#222" stroke-width="1.1"/>
<line x1="69.5" x2="74.1" y1="486.6" y2="486.6" stroke="#222" stroke-width="1.1"/>
<line x1="69.5" x2="74.1" y1="500.5" y2="500.5" stroke="#222" stroke-width="1.1"/>
<line x1="69.5" x2="74.1" y1="515.5" y2="515.5" stroke="#222" stroke-width="1.1"/>
<line x1="69.5" x2="74.1" y1="529.0" y2="529.0" stroke="#222" stroke-width="1.1"/>
<line x1="69.5" x2="74.1" y1="543.5" y2="543.5" stroke="#222" stroke-width="1.1"/>
<line x1="69.5" x2="74.1" y1="557.4" y2="557.4" stroke="#222" stroke-width="1.1"/>
<line x1="69.5" x2="74.1" y1="572.5" y2="572.5" stroke="#222" stroke-width="1.1"/>
<line x1="69.5" x2="74.1" y1="586.6" y2="586.6" stroke="#222" stroke-width="1.1"/>
<line x1="69.5" x2="74.1" y1="599.8" y2="599.8" stroke="#222" stroke-width="1.1"/>
<rect x="69.5" y="417.5" width="1025.1" height="196.89999999999998" fill="none" stroke="#1c1c1c" stroke-width="1.35"/>
<g font-family="Liberation Sans, sans-serif" font-size="19.5" fill="#000" text-anchor="end">
<text x="64.6" y="464.8">20</text>
<text x="64.6" y="536.7">15</text>
<text x="64.6" y="607.8">10</text>
</g>
<text x="579.5" y="407.5" font-family="Liberation Sans, sans-serif" opacity="0.999" font-size="21.9" fill="#000" text-anchor="middle" transform="translate(579.5 0) scale(1.088 1) translate(-579.5 0)">Temperatura (°C)</text>
<clipPath id="cr"><rect x="69.5" y="700.8" width="1025.1" height="196.5"/></clipPath>
<g clip-path="url(#cr)">
<line x1="69.5" x2="1094.6" y1="724" y2="724" stroke="#000" stroke-opacity="0.17" stroke-width="1.8"/>
<line x1="69.5" x2="1094.6" y1="767" y2="767" stroke="#000" stroke-opacity="0.17" stroke-width="1.8"/>
<line x1="69.5" x2="1094.6" y1="810.7" y2="810.7" stroke="#000" stroke-opacity="0.17" stroke-width="1.8"/>
<line x1="69.5" x2="1094.6" y1="853.8" y2="853.8" stroke="#000" stroke-opacity="0.17" stroke-width="1.8"/>
<line x1="227.1" x2="227.1" y1="700.8" y2="897.3" stroke="#000" stroke-opacity="0.17" stroke-width="2.1"/>
<line x1="384.8" x2="384.8" y1="700.8" y2="897.3" stroke="#000" stroke-opacity="0.17" stroke-width="2.1"/>
<line x1="542.6" x2="542.6" y1="700.8" y2="897.3" stroke="#000" stroke-opacity="0.17" stroke-width="2.1"/>
<line x1="700.3" x2="700.3" y1="700.8" y2="897.3" stroke="#000" stroke-opacity="0.17" stroke-width="2.1"/>
<line x1="858.1" x2="858.1" y1="700.8" y2="897.3" stroke="#000" stroke-opacity="0.17" stroke-width="2.1"/>
<line x1="1015.9" x2="1015.9" y1="700.8" y2="897.3" stroke="#000" stroke-opacity="0.17" stroke-width="2.1"/>
<rect x="43.3" y="853.0" width="52" height="44.3" fill="#0050ff"/>
<rect x="122.2" y="893.8" width="52" height="3.5" fill="#0050ff"/>
<rect x="201.1" y="889.7" width="52" height="7.6" fill="#0050ff"/>
<rect x="279.9" y="894.9" width="52" height="2.4" fill="#0050ff"/>
<rect x="595.5" y="832.0" width="52" height="65.3" fill="#0050ff"/>
<line x1="69.3" x2="69.3" y1="733.5" y2="897.3" stroke="#808080" stroke-width="2.4"/>
<line x1="59.1" x2="79.5" y1="733.5" y2="733.5" stroke="#808080" stroke-width="3"/>
<line x1="148.2" x2="148.2" y1="762.2" y2="897.3" stroke="#808080" stroke-width="2.4"/>
<line x1="138.0" x2="158.4" y1="762.2" y2="762.2" stroke="#808080" stroke-width="3"/>
<line x1="227.1" x2="227.1" y1="854.2" y2="897.3" stroke="#808080" stroke-width="2.4"/>
<line x1="216.9" x2="237.3" y1="854.2" y2="854.2" stroke="#808080" stroke-width="3"/>
<line x1="305.9" x2="305.9" y1="848.3" y2="897.3" stroke="#808080" stroke-width="2.4"/>
<line x1="295.7" x2="316.1" y1="848.3" y2="848.3" stroke="#808080" stroke-width="3"/>
<line x1="384.8" x2="384.8" y1="896.3" y2="897.3" stroke="#808080" stroke-width="2.4"/>
<line x1="374.6" x2="395.0" y1="896.3" y2="896.3" stroke="#808080" stroke-width="1.6"/>
<line x1="463.7" x2="463.7" y1="896.3" y2="897.3" stroke="#808080" stroke-width="2.4"/>
<line x1="453.5" x2="473.9" y1="896.3" y2="896.3" stroke="#808080" stroke-width="1.6"/>
<line x1="542.6" x2="542.6" y1="896.3" y2="897.3" stroke="#808080" stroke-width="2.4"/>
<line x1="532.4" x2="552.8" y1="896.3" y2="896.3" stroke="#808080" stroke-width="1.6"/>
<line x1="621.5" x2="621.5" y1="716.4" y2="897.3" stroke="#808080" stroke-width="2.4"/>
<line x1="611.3" x2="631.7" y1="716.4" y2="716.4" stroke="#808080" stroke-width="3"/>
<line x1="700.3" x2="700.3" y1="896.3" y2="897.3" stroke="#808080" stroke-width="2.4"/>
<line x1="690.1" x2="710.5" y1="896.3" y2="896.3" stroke="#808080" stroke-width="1.6"/>
<line x1="779.2" x2="779.2" y1="896.3" y2="897.3" stroke="#808080" stroke-width="2.4"/>
<line x1="769.0" x2="789.4" y1="896.3" y2="896.3" stroke="#808080" stroke-width="1.6"/>
<line x1="858.1" x2="858.1" y1="896.3" y2="897.3" stroke="#808080" stroke-width="2.4"/>
<line x1="847.9" x2="868.3" y1="896.3" y2="896.3" stroke="#808080" stroke-width="1.6"/>
<line x1="937.0" x2="937.0" y1="896.3" y2="897.3" stroke="#808080" stroke-width="2.4"/>
<line x1="926.8" x2="947.2" y1="896.3" y2="896.3" stroke="#808080" stroke-width="1.6"/>
<line x1="1015.9" x2="1015.9" y1="896.3" y2="897.3" stroke="#808080" stroke-width="2.4"/>
<line x1="1005.7" x2="1026.1" y1="896.3" y2="896.3" stroke="#808080" stroke-width="1.6"/>
<line x1="1094.7" x2="1094.7" y1="896.3" y2="897.3" stroke="#808080" stroke-width="2.4"/>
<line x1="1084.5" x2="1104.9" y1="896.3" y2="896.3" stroke="#808080" stroke-width="1.6"/>
</g>
<rect x="69.5" y="700.8" width="1025.1" height="196.5" fill="none" stroke="#1c1c1c" stroke-width="1.35"/>
<g font-family="Liberation Sans, sans-serif" font-size="19.5" fill="#000" text-anchor="end">
<text x="64.2" y="719.9">20</text>
<text x="64.2" y="775.1">15</text>
<text x="64.2" y="817.8">10</text>
<text x="64.2" y="860.9">5</text>
<text x="64.2" y="893.1">0</text>
</g>
<g font-family="Liberation Sans, sans-serif" font-size="19.5" fill="#000" text-anchor="middle">
<text x="68.3" y="692.7">sob</text>
<text x="148.8" y="692.7">ned</text>
<text x="227.2" y="692.7">pon</text>
<text x="305.7" y="692.7">tor</text>
<text x="384.8" y="692.7">sre</text>
<text x="463.7" y="692.7">čet</text>
<text x="542.6" y="692.7">pet</text>
<text x="621.4" y="692.7">sob</text>
<text x="700.4" y="692.7">ned</text>
<text x="779.4" y="692.7">pon</text>
<text x="857.9" y="692.7">tor</text>
<text x="936.0" y="692.7">sre</text>
<text x="1015.5" y="692.7">čet</text>
<text x="1095.0" y="692.7">pet</text>
</g>
<g font-family="Liberation Sans, sans-serif" font-size="24" text-anchor="middle">
<text x="69.4" y="926.9" fill="#0f5ab4">75%</text>
<text x="148.3" y="926.9" fill="#0f5ab4">80%</text>
<text x="227.2" y="926.9" fill="#3a98d0">15%</text>
<text x="306.1" y="926.9" fill="#3a98d0">20%</text>
<text x="384.9" y="926.9" fill="#3a98d0">20%</text>
<text x="463.8" y="926.9" fill="#3a98d0">40%</text>
<text x="542.7" y="926.9" fill="#3a98d0">45%</text>
<text x="621.6" y="926.9" fill="#3a98d0">45%</text>
<text x="700.5" y="926.9" fill="#3a98d0">20%</text>
<text x="779.3" y="926.9" fill="#3a98d0">20%</text>
<text x="858.2" y="926.9" fill="#3a98d0">30%</text>
<text x="937.1" y="926.9" fill="#3a98d0">35%</text>
<text x="1016.0" y="926.9" fill="#3a98d0">25%</text>
<text x="1094.9" y="926.9" fill="#3a98d0">30%</text>
</g>
<text x="578" y="667.6" font-family="Liberation Sans, sans-serif" opacity="0.999" font-size="21.9" fill="#000" text-anchor="middle" transform="translate(578 0) scale(1.092 1) translate(-578 0)">Količina padavin (mm) / Možnost padavin (%)</text>
</g>
</svg>
</body></html>
